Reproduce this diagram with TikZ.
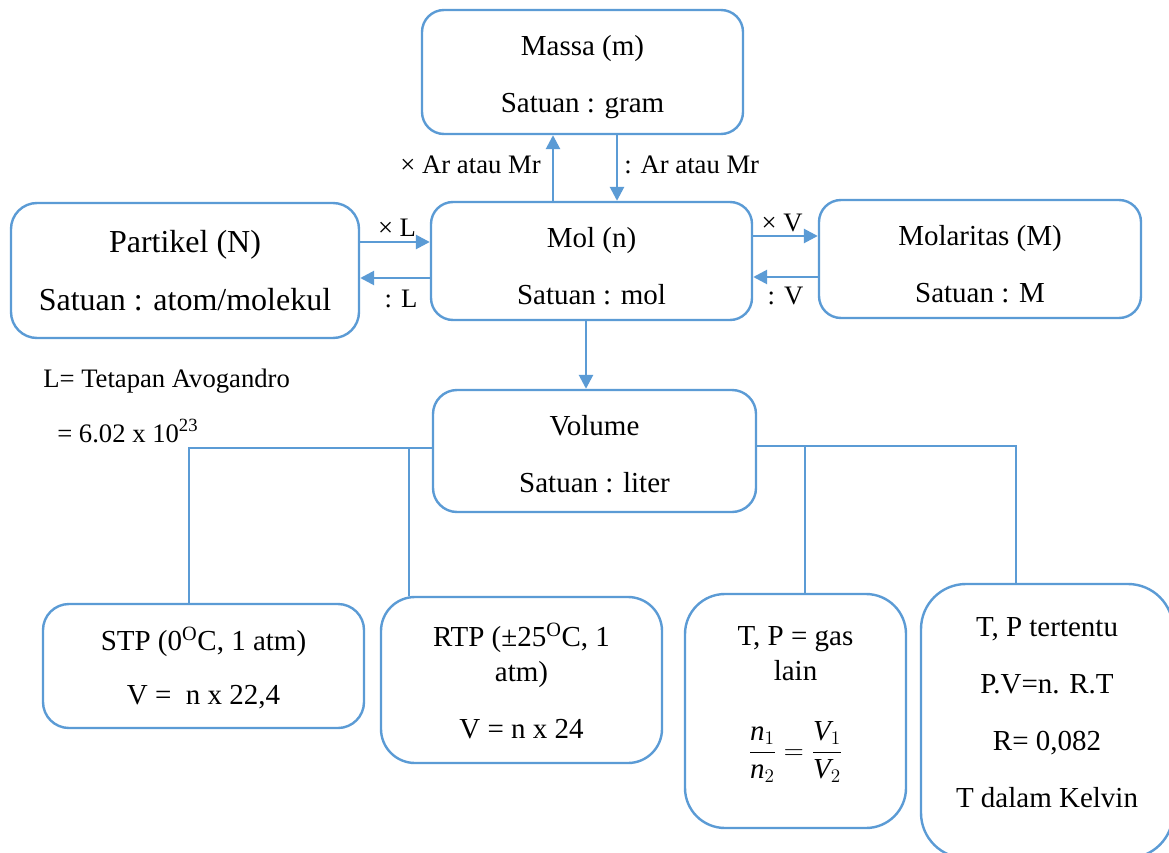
\documentclass[tikz,border=0pt]{standalone}
\usepackage{fontspec}
\usepackage{amsmath}
\setmainfont{Liberation Serif}
\usetikzlibrary{arrows.meta}
\definecolor{bl}{HTML}{5B9BD5}
\newcommand\mainsz{\fontsize{21.75}{42.5}\selectfont}
\newcommand\partsz{\fontsize{24}{43}\selectfont}
\newcommand\labsz{\fontsize{20}{24}\selectfont}
\newcommand\mystr{\rule{0pt}{22.5pt}}
\begin{document}
\begin{tikzpicture}[x=0.75pt,y=-0.75pt,
  box/.style={draw=bl, line width=1.8pt, align=center, inner sep=0pt, font=\mainsz},
  bx/.style n args={3}{minimum width=#1*0.75pt, minimum height=#2*0.75pt, rounded corners=#3*0.75pt},
  txt/.style={align=center, inner sep=0pt, font=\mainsz},
  lab/.style={inner sep=0pt, font=\labsz},
  arr/.style={draw=bl, line width=2pt, -{Triangle[length=10.5pt,width=10.5pt]}},
  tree/.style={draw=bl, line width=1pt}]
\useasboundingbox (0,0) rectangle (1169,852);
\clip (0,0) rectangle (1169,852);
\fill[white] (0,0) rectangle (1169,852);

% boxes
\node[box, bx={321}{124}{22}] (massa) at (582.5,72) {\mystr Massa (m)\\Satuan : gram};
\node[box, bx={321}{118}{22}] (mol) at (591.5,261) {\mystr Mol (n)\\Satuan : mol};
\node[box, bx={348}{135}{26}, font=\partsz] (part) at (185,270.5) {Partikel (N)\\Satuan : atom/molekul};
\node[box, bx={322}{118}{22}] (molar) at (980,259) {\mystr Molaritas (M)\\Satuan : M};
\node[box, bx={323}{122}{24}] (vol) at (594.5,451) {\rule{0pt}{20pt}Volume\\Satuan : liter};
\node[box, bx={321}{124}{26}, font=\fontsize{21.75}{40.5}\selectfont] (stp) at (203.5,666) {\rule{0pt}{21pt}STP (0\textsuperscript{O}C, 1 atm)\\V =\ \ n x 22,4};
\node[box, bx={281}{166}{34}, font=\fontsize{21.75}{26.25}\selectfont] (rtp) at (521.5,680) {\rule{0pt}{19pt}RTP (±25\textsuperscript{O}C, 1\\atm)\\[17pt]V = n x 24};
\node[box, bx={221}{234}{40}] (gas) at (795.5,711) {};
\node[box, bx={252}{274}{45}] (tert) at (1047,721) {};

% texts inside gas and tert boxes
\node[txt, font=\fontsize{21.75}{26.25}\selectfont] (gasT) at (795.5,654) {T, P = gas\\lain};
\node[txt] (gasF) at (795.5,752) {$\displaystyle\frac{\text{\itshape n}_{1}}{\text{\itshape n}_{2}}=\frac{\text{\itshape V}_{1}}{\text{\itshape V}_{2}}$};
\node[txt, font=\fontsize{21.75}{42.75}\selectfont] (tertT) at (1047,712.5) {T, P tertentu\\P.V=n. R.T\\R= 0,082\\T dalam Kelvin};

% note
\node[lab, anchor=base west] (note1) at (43,387) {L= Tetapan Avogandro};
\node[lab, anchor=base west] (note2) at (57,442) {= 6.02 x 10\textsuperscript{23}};

% helper coordinates
\coordinate (cA) at (553,0);
\coordinate (cB) at (617,0);
\coordinate (yA) at (0,242);
\coordinate (yB) at (0,278);
\coordinate (yC) at (0,236);
\coordinate (yD) at (0,277);
\coordinate (cV) at (586,0);
\coordinate (hL) at (0,448);
\coordinate (hR) at (0,446);
\coordinate (t1) at (189,0);
\coordinate (t2) at (409,0);
\coordinate (t3) at (805,0);
\coordinate (t4) at (1016,0);

% arrows
\draw[arr] (mol.north -| cA) -- node[lab, anchor=base east, xshift=-8.25pt, yshift=-4.5pt] (labA) {× Ar atau Mr} (massa.south -| cA);
\draw[arr] (massa.south -| cB) -- node[lab, anchor=base west, xshift=4.5pt, yshift=-4.5pt] (labB) {: Ar atau Mr} (mol.north -| cB);
\draw[arr] (part.east |- yA) -- node[lab, anchor=base, xshift=1.5pt, yshift=3.75pt] (labC) {× L} (mol.west |- yA);
\draw[arr] (mol.west |- yB) -- node[lab, anchor=base, xshift=4.5pt, yshift=-21.75pt] (labD) {: L} (part.east |- yB);
\draw[arr] (mol.east |- yC) -- node[lab, anchor=base, xshift=-2.5pt, yshift=3pt] (labE) {× V} (molar.west |- yC);
\draw[arr] (molar.west |- yD) -- node[lab, anchor=base, xshift=0pt, yshift=-20.25pt] (labF) {: V} (mol.east |- yD);
\draw[arr] (mol.south -| cV) -- (vol.north -| cV);

% tree lines
\draw[tree] (vol.west |- hL) -- (t1 |- hL) -- (stp.north -| t1);
\draw[tree] (t2 |- hL) -- (rtp.north -| t2);
\draw[tree] (vol.east |- hR) -- (t4 |- hR) -- (tert.north -| t4);
\draw[tree] (t3 |- hR) -- (gas.north -| t3);
\end{tikzpicture}
\end{document}
